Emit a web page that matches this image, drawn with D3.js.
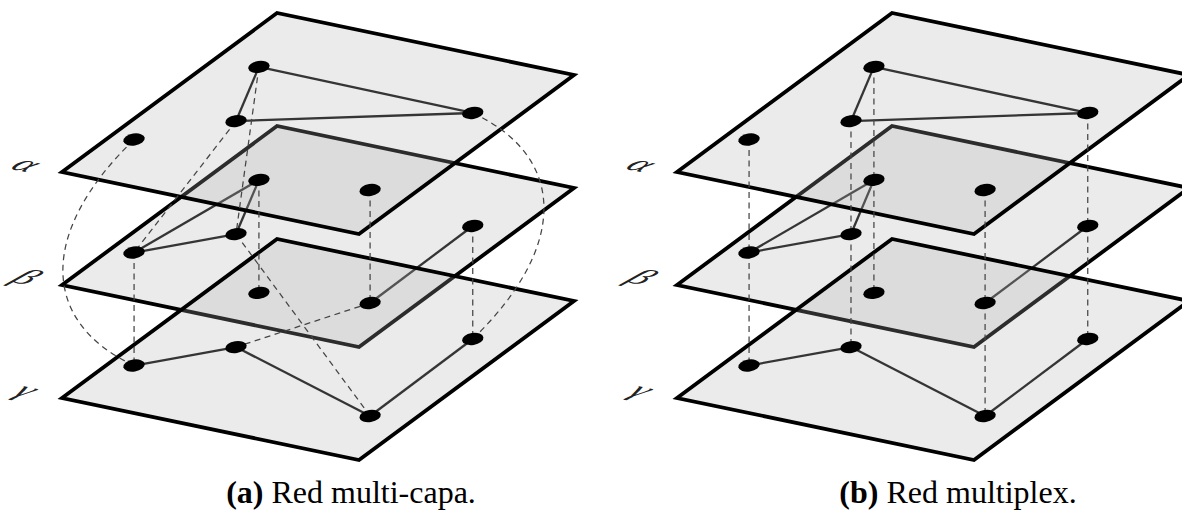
<!DOCTYPE html>
<html>
<head>
<meta charset="utf-8">
<script src="https://cdn.jsdelivr.net/npm/d3@7"></script>
<style>
  html, body { margin: 0; padding: 0; background: #fff; }
  svg { display: block; }
</style>
</head>
<body>
<svg id="chart" width="1182" height="511"></svg>
<script>
// ── Data ──────────────────────────────────────────────────────────────────────

const panels   = ['a', 'b'];
const tags     = ['(a)', '(b)'];
const captions = ['Red multi-capa.', 'Red multiplex.'];
const layers   = ['α', 'β', 'γ'];

// node positions inside a plane (u: left→top edge, v: top→right edge)
const nodeIds = ['A', 'B', 'C', 'D', 'F'];
const nodeU   = [0.717, 0.428, 0.710, 0.233, 0.227];
const nodeV   = [0.144, 0.276, 0.869, 0.074, 0.873];

// intra-layer edges, same in both panels: [layer, node, node]
const intraEdges = [
  ['α', 'A', 'B'], ['α', 'A', 'C'], ['α', 'B', 'C'],
  ['β', 'A', 'B'], ['β', 'A', 'D'], ['β', 'B', 'D'], ['β', 'C', 'F'],
  ['γ', 'D', 'B'], ['γ', 'B', 'F'], ['γ', 'F', 'C'],
];

// inter-layer links: [node, layer, node, layer, bend]
const multiCapaLinks = [
  ['D', 'α', 'D', 'γ', -1],
  ['C', 'α', 'C', 'γ',  1],
  ['B', 'α', 'D', 'β',  0],
  ['A', 'α', 'B', 'β',  0],
  ['A', 'β', 'A', 'γ',  0],
  ['F', 'α', 'F', 'β',  0],
  ['C', 'β', 'C', 'γ',  0],
  ['D', 'β', 'D', 'γ',  0],
  ['F', 'β', 'B', 'γ',  0],
  ['B', 'β', 'F', 'γ',  0],
];
const multiplexLinks = nodeIds.flatMap(n => [
  [n, 'α', n, 'β', 0],
  [n, 'β', n, 'γ', 0],
]);
const panelLinks = [multiCapaLinks, multiplexLinks];

// ── Projection ────────────────────────────────────────────────────────────────

const uX = d3.scaleLinear().domain([0, 1]).range([0, 215]);
const uY = d3.scaleLinear().domain([0, 1]).range([0, -159]);
const vX = d3.scaleLinear().domain([0, 1]).range([0, 297]);
const vY = d3.scaleLinear().domain([0, 1]).range([0, 62]);
const panelX = d3.scalePoint().domain(panels).range([62, 677]);
const layerY = d3.scalePoint().domain(layers).range([172, 398]);
const captionX = d3.scalePoint().domain(panels).range([351, 958]);

function project(panel, layer, u, v) {
  return [panelX(panel) + uX(u) + vX(v), layerY(layer) + uY(u) + vY(v)];
}

function nodePos(panel, layer, id) {
  const i = nodeIds.indexOf(id);
  return project(panel, layer, nodeU[i], nodeV[i]);
}

const corners = [[0, 0], [1, 0], [1, 1], [0, 1]];
const drawOrder = ['β', 'α', 'γ'];

const svg = d3.select('#chart');

// ── Panels ────────────────────────────────────────────────────────────────────

panels.forEach((panel, pi) => {
  const g = svg.append('g');

  drawOrder.forEach(layer => {
    g.append('path')
      .attr('d', d3.line()(corners.map(c => project(panel, layer, c[0], c[1]))) + 'Z')
      .attr('fill', '#afafaf')
      .attr('fill-opacity', 0.25)
      .attr('stroke', '#000')
      .attr('stroke-width', 3.8)
      .attr('stroke-linejoin', 'miter');

    g.append('g')
      .selectAll('line')
      .data(intraEdges.filter(e => e[0] === layer))
      .join('line')
      .attr('x1', d => nodePos(panel, layer, d[1])[0])
      .attr('y1', d => nodePos(panel, layer, d[1])[1])
      .attr('x2', d => nodePos(panel, layer, d[2])[0])
      .attr('y2', d => nodePos(panel, layer, d[2])[1])
      .attr('stroke', '#353535')
      .attr('stroke-width', 2.3);
  });

  // inter-layer dashed links
  g.append('g')
    .selectAll('path')
    .data(panelLinks[pi])
    .join('path')
    .attr('d', d => {
      const p0 = nodePos(panel, d[1], d[0]);
      const p1 = nodePos(panel, d[3], d[2]);
      const p = d3.path();
      p.moveTo(p0[0], p0[1]);
      if (d[4] === 0) {
        p.lineTo(p1[0], p1[1]);
      } else {
        const len = p1[1] - p0[1];
        const off = d[4] * 0.42 * len;
        p.bezierCurveTo(
          p0[0] + off, p0[1] + 0.3 * len - 0.25 * off,
          p1[0] + off, p0[1] + 0.7 * len - 0.25 * off,
          p1[0], p1[1]);
      }
      return p.toString();
    })
    .attr('fill', 'none')
    .attr('stroke', '#454545')
    .attr('stroke-width', 1.25)
    .attr('stroke-dasharray', '6 4.5');

  // nodes
  const nodes = layers.flatMap(layer => nodeIds.map(id => ({ layer, id })));
  g.append('g')
    .selectAll('ellipse')
    .data(nodes)
    .join('ellipse')
    .attr('transform', d => {
      const [x, y] = nodePos(panel, d.layer, d.id);
      return `translate(${x},${y}) rotate(-9)`;
    })
    .attr('rx', 10.8)
    .attr('ry', 6)
    .attr('fill', '#000');

  // layer labels, slanted like the planes
  g.append('g')
    .selectAll('text')
    .data(layers)
    .join('text')
    .attr('transform', d => {
      const [x, y] = project(panel, d, 0, 0);
      return `translate(${x - 35},${y - 8}) matrix(0.979,0.204,-0.707,0.524,0,0)`;
    })
    .attr('text-anchor', 'middle')
    .attr('dominant-baseline', 'central')
    .attr('font-family', 'Liberation Serif, serif')
    .attr('font-style', 'italic')
    .attr('font-size', 37)
    .attr('fill', '#222')
    .text(d => d);

  // caption
  const cap = svg.append('text')
    .attr('x', captionX(panel))
    .attr('y', 503)
    .attr('text-anchor', 'middle')
    .attr('font-family', 'Liberation Serif, serif')
    .attr('font-size', 32)
    .attr('fill', '#000');
  cap.append('tspan').attr('font-weight', 'bold').text(tags[pi]);
  cap.append('tspan').text(' ' + captions[pi]);
});
</script>
</body>
</html>
